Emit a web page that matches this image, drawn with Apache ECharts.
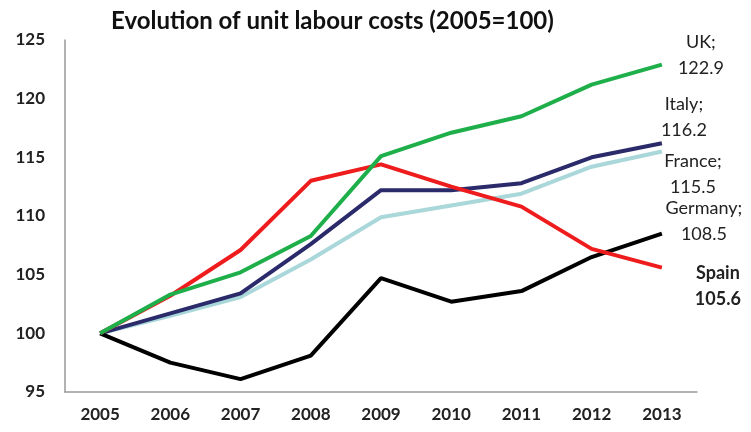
<!DOCTYPE html>
<html>
<head>
<meta charset="utf-8">
<script src="https://cdn.jsdelivr.net/npm/echarts@6/dist/echarts.min.js"></script>
<style>
  html, body { margin: 0; padding: 0; background: #fff; }
  #chart { width: 751px; height: 432px; }
</style>
</head>
<body>
<div id="chart"></div>
<script>
const years = ['2005', '2006', '2007', '2008', '2009', '2010', '2011', '2012', '2013'];
const france = [100, 101.5, 103.1, 106.3, 109.9, 110.9, 111.9, 114.2, 115.5];
const italy = [100, 101.7, 103.4, 107.6, 112.2, 112.2, 112.8, 115.0, 116.2];
const germany = [100, 97.5, 96.1, 98.1, 104.7, 102.7, 103.6, 106.5, 108.5];
const spain = [100, 103.2, 107.1, 113.0, 114.4, 112.5, 110.8, 107.2, 105.6];
const uk = [100, 103.3, 105.2, 108.3, 115.1, 117.1, 118.5, 121.2, 122.9];
const yTicks = [95, 100, 105, 110, 115, 120, 125];

const font = 'Lato, "Open Sans", sans-serif';

function makeSeries(name, data, color, offset, bold) {
  return {
    name: name,
    type: 'line',
    data: data,
    symbol: 'none',
    lineStyle: { width: 4, color: color },
    itemStyle: { color: color },
    endLabel: {
      show: true,
      distance: 0,
      offset: offset,
      align: 'center',
      verticalAlign: 'middle',
      fontFamily: font,
      fontSize: 18,
      lineHeight: 26,
      fontWeight: bold ? 'bold' : 'normal',
      color: '#222',
      formatter: p => bold ? p.seriesName + '\n' + p.value : p.seriesName + ';\n' + p.value
    }
  };
}

const chart = echarts.init(document.getElementById('chart'));
chart.setOption({
  animation: false,
  title: {
    text: 'Evolution of unit labour costs (2005=100)',
    left: 106,
    top: 4,
    textStyle: { fontFamily: font, fontSize: 24, fontWeight: 'bold', color: '#111' }
  },
  grid: { left: 65, right: 54, top: 40, bottom: 40 },
  xAxis: {
    type: 'category',
    data: years,
    boundaryGap: true,
    axisLine: { lineStyle: { color: '#999', width: 1.5 } },
    axisTick: { show: false },
    axisLabel: { margin: 14, fontFamily: font, fontSize: 17, fontWeight: 'bold', color: '#222' }
  },
  yAxis: {
    type: 'value',
    min: yTicks[0],
    max: yTicks[yTicks.length - 1],
    interval: 5,
    axisLine: { show: true, lineStyle: { color: '#999', width: 1.5 } },
    axisTick: { show: false },
    splitLine: { show: false },
    axisLabel: { margin: 20, fontFamily: font, fontSize: 17, fontWeight: 'bold', color: '#222' }
  },
  series: [
    makeSeries('France', france, '#a9d7da', [31, 23], false),
    makeSeries('Italy', italy, '#2b2a6b', [22, -26], false),
    makeSeries('Germany', germany, '#000000', [42, -12], false),
    makeSeries('Spain', spain, '#ee1c1c', [56, 19], true),
    makeSeries('UK', uk, '#1eaf4a', [39, -9], false)
  ]
});
</script>
</body>
</html>
